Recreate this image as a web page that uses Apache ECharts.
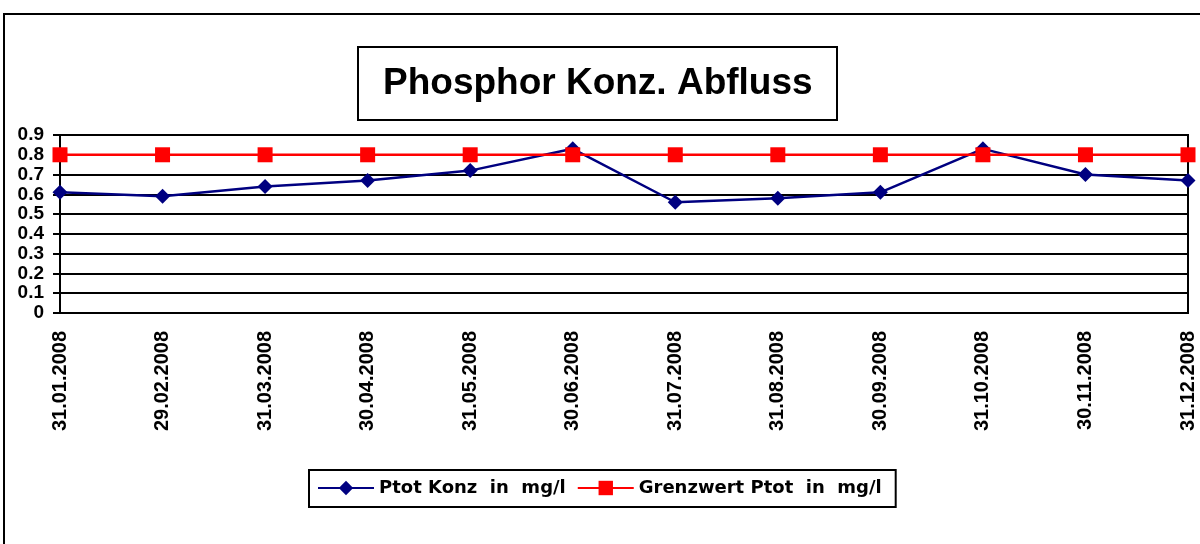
<!DOCTYPE html>
<html>
<head>
<meta charset="utf-8">
<title>Phosphor Konz. Abfluss</title>
<script src="https://cdn.jsdelivr.net/npm/echarts@6/dist/echarts.min.js"></script>
<style>
  html, body { margin: 0; padding: 0; background: #fff; }
  #chart { width: 1200px; height: 544px; }
</style>
</head>
<body>
<div id="chart"></div>
<script>
// Monatswerte 2008
const dates = [
  '31.01.2008', '29.02.2008', '31.03.2008', '30.04.2008', '31.05.2008', '30.06.2008',
  '31.07.2008', '31.08.2008', '30.09.2008', '31.10.2008', '30.11.2008', '31.12.2008'
];
const ptotKonz = [0.61, 0.59, 0.64, 0.67, 0.72, 0.83, 0.56, 0.58, 0.61, 0.83, 0.70, 0.67];
const grenzwert = [0.8, 0.8, 0.8, 0.8, 0.8, 0.8, 0.8, 0.8, 0.8, 0.8, 0.8, 0.8];

const FONT = '"Liberation Sans", Arial, sans-serif';
// breitere Schrift für die Legende (wie im Original)
const WIDE = '"DejaVu Sans", sans-serif';

const chart = echarts.init(document.getElementById('chart'));

const option = {
  backgroundColor: '#fff',
  animation: false,
  // äußerer Rahmen (rechts/unten abgeschnitten wie im Original)
  graphic: [
    {
      type: 'rect',
      shape: { x: 4, y: 14, width: 1260, height: 620 },
      style: { fill: 'none', stroke: '#000', lineWidth: 2 },
      silent: true
    }
  ],
  title: {
    text: 'Phosphor Konz. Abfluss',
    left: 358,
    top: 47,
    padding: [18, 25],
    borderColor: '#000',
    borderWidth: 2,
    textStyle: { fontFamily: FONT, fontSize: 37, fontWeight: 'bold', color: '#000' }
  },
  legend: {
    left: 309,
    top: 470,
    padding: [9, 14, 10, 8],
    itemWidth: 56,
    itemHeight: 18,
    itemGap: 11,
    borderColor: '#000',
    borderWidth: 2,
    textStyle: { fontFamily: WIDE, fontSize: 18, fontWeight: 'bold', color: '#000' },
    data: ['Ptot Konz  in  mg/l', 'Grenzwert Ptot  in  mg/l']
  },
  grid: {
    left: 60,
    top: 135,
    width: 1128,
    height: 178,
    show: true,
    borderColor: '#000',
    borderWidth: 2
  },
  xAxis: {
    type: 'category',
    data: dates,
    boundaryGap: false,
    axisLine: { lineStyle: { color: '#000', width: 2 } },
    axisTick: { show: false },
    axisLabel: {
      rotate: 90,
      margin: 18,
      interval: 0,
      color: '#000',
      fontFamily: FONT,
      fontSize: 20,
      fontWeight: 'bold'
    },
    splitLine: { show: false }
  },
  yAxis: {
    type: 'value',
    min: 0,
    max: 0.9,
    interval: 0.1,
    axisLine: { show: true, lineStyle: { color: '#000', width: 2 } },
    axisTick: { show: true, length: 7, lineStyle: { color: '#000', width: 2 } },
    axisLabel: {
      margin: 16,
      color: '#000',
      fontFamily: FONT,
      fontSize: 19,
      fontWeight: 'bold'
    },
    splitLine: { lineStyle: { color: '#000', width: 2 } }
  },
  series: [
    {
      name: 'Ptot Konz  in  mg/l',
      type: 'line',
      data: ptotKonz,
      symbol: 'diamond',
      symbolSize: 15,
      lineStyle: { color: '#000080', width: 2.5 },
      itemStyle: { color: '#000080' }
    },
    {
      name: 'Grenzwert Ptot  in  mg/l',
      type: 'line',
      data: grenzwert,
      symbol: 'rect',
      symbolSize: 15,
      lineStyle: { color: '#ff0000', width: 2.5 },
      itemStyle: { color: '#ff0000' }
    }
  ]
};

chart.setOption(option);
</script>
</body>
</html>
